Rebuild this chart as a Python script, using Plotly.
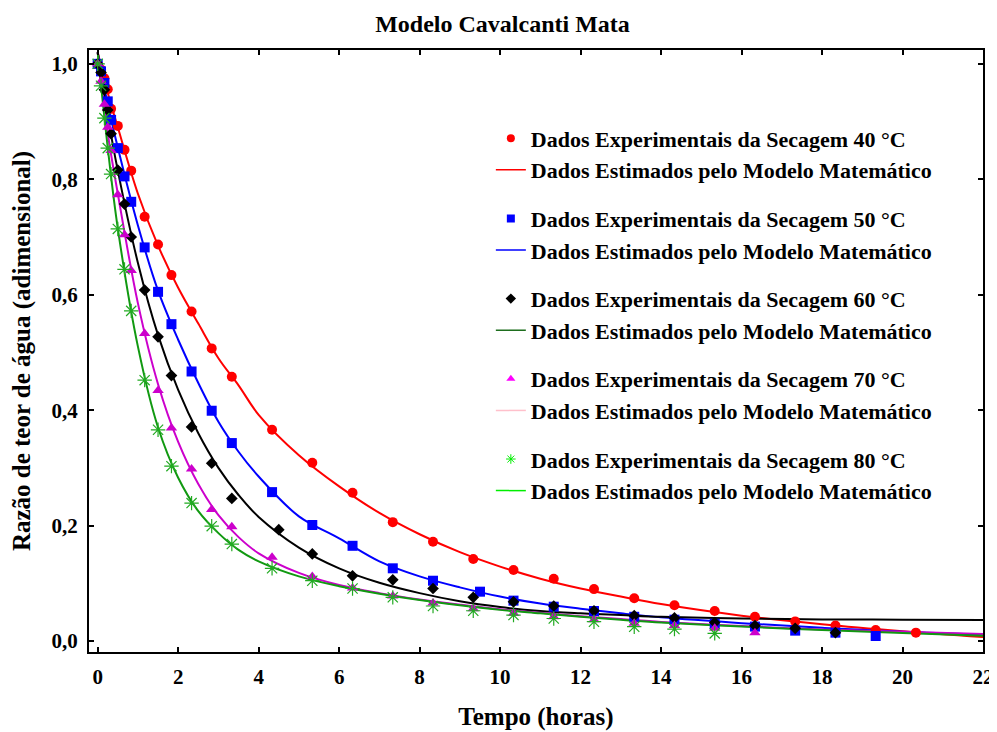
import plotly.graph_objects as go

# ---------------- data ----------------
t_red = [0, 0.083, 0.167, 0.25, 0.333, 0.5, 0.667, 0.833, 1.167, 1.5, 1.833, 2.333, 2.833, 3.333,
         4.333, 5.333, 6.333, 7.333, 8.333, 9.333, 10.333, 11.333, 12.333, 13.333, 14.333, 15.333,
         16.333, 17.333, 18.333, 19.333, 20.333]
mr_40 = [1.0, 0.99, 0.975, 0.956, 0.922, 0.8925, 0.851, 0.815, 0.735, 0.687, 0.634, 0.571, 0.507, 0.458,
         0.366, 0.309, 0.257, 0.206, 0.172, 0.142, 0.123, 0.108, 0.090, 0.074, 0.062, 0.052,
         0.042, 0.034, 0.027, 0.019, 0.0145]

t_blue = [0, 0.083, 0.167, 0.25, 0.333, 0.5, 0.667, 0.833, 1.167, 1.5, 1.833, 2.333, 2.833, 3.333,
          4.333, 5.333, 6.333, 7.333, 8.333, 9.5, 10.333, 11.333, 12.333, 13.333, 14.333, 15.333,
          16.333, 17.333, 18.333, 19.333]
mr_50 = [1.0, 0.987, 0.967, 0.935, 0.903, 0.854, 0.805, 0.761, 0.682, 0.605, 0.549, 0.467, 0.399, 0.343,
         0.258, 0.201, 0.165, 0.126, 0.1045, 0.0855, 0.070, 0.0595, 0.052, 0.042, 0.037, 0.030,
         0.025, 0.018, 0.0145, 0.0087]

t_black = [0, 0.083, 0.167, 0.25, 0.333, 0.5, 0.667, 0.833, 1.167, 1.5, 1.833, 2.333, 2.833, 3.333,
           4.5, 5.333, 6.333, 7.333, 8.333, 9.333, 10.333, 11.333, 12.333, 13.333, 14.333, 15.333,
           16.333, 17.333, 18.333]
mr_60 = [1.0, 0.985, 0.955, 0.92, 0.879, 0.816, 0.757, 0.70, 0.608, 0.527, 0.46, 0.371, 0.308, 0.247,
         0.193, 0.151, 0.113, 0.106, 0.091, 0.0757, 0.068, 0.0607, 0.0525, 0.044, 0.040, 0.032,
         0.0266, 0.022, 0.0144]

t_mag = [0, 0.083, 0.167, 0.25, 0.333, 0.5, 0.667, 0.833, 1.167, 1.5, 1.833, 2.333, 2.833, 3.333,
         4.333, 5.333, 6.333, 7.333, 8.333, 9.333, 10.333, 11.333, 12.333, 13.333, 14.333, 15.333,
         16.333]
mr_70 = [1.0, 0.97, 0.93, 0.89, 0.85, 0.773, 0.704, 0.642, 0.533, 0.434, 0.369, 0.298, 0.228, 0.198,
         0.145, 0.112, 0.092, 0.078, 0.066, 0.056, 0.048, 0.042, 0.037, 0.031, 0.027, 0.022,
         0.0144]

t_green = [0, 0.083, 0.167, 0.25, 0.333, 0.5, 0.667, 0.833, 1.167, 1.5, 1.833, 2.333, 2.833, 3.333,
           4.333, 5.333, 6.333, 7.333, 8.333, 9.333, 10.333, 11.333, 12.333, 13.333, 14.333, 15.333]
mr_80 = [1.0, 0.962, 0.906, 0.854, 0.809, 0.714, 0.644, 0.572, 0.452, 0.366, 0.303, 0.239, 0.199, 0.168,
         0.126, 0.1045, 0.091, 0.0757, 0.0607, 0.0525, 0.045, 0.039, 0.0335, 0.0248, 0.0208, 0.0133]

# model curves
t_fit = [0, 0.25, 0.5, 1, 1.5, 2, 2.5, 3, 3.5, 4, 5, 6, 7, 8, 9, 10, 11, 12, 13, 14, 16, 18, 20, 22]
fit_40 = [1.02, 0.95, 0.89, 0.775, 0.685, 0.612, 0.55, 0.490, 0.443, 0.392, 0.322, 0.268, 0.222, 0.185,
          0.154, 0.129, 0.108, 0.091, 0.077, 0.064, 0.044, 0.029, 0.017, 0.007]
fit_50 = [1.02, 0.93, 0.855, 0.72, 0.607, 0.522, 0.447, 0.38, 0.328, 0.285, 0.216, 0.178, 0.138, 0.112,
          0.093, 0.077, 0.065, 0.056, 0.048, 0.041, 0.031, 0.023, 0.016, 0.011]
fit_60 = [1.02, 0.91, 0.815, 0.655, 0.53, 0.435, 0.36, 0.30, 0.253, 0.215, 0.162, 0.126, 0.101, 0.083,
          0.069, 0.059, 0.052, 0.048, 0.045, 0.042, 0.039, 0.0375, 0.037, 0.0365]
fit_70 = [1.02, 0.88, 0.775, 0.585, 0.445, 0.345, 0.272, 0.218, 0.18, 0.152, 0.118, 0.097, 0.083, 0.072,
          0.063, 0.055, 0.049, 0.043, 0.038, 0.033, 0.026, 0.020, 0.016, 0.012]
fit_80 = [1.02, 0.855, 0.715, 0.51, 0.37, 0.283, 0.225, 0.187, 0.158, 0.138, 0.112, 0.095, 0.082, 0.071,
          0.062, 0.054, 0.048, 0.042, 0.037, 0.032, 0.025, 0.019, 0.014, 0.009]

temps = ["40", "50", "60", "70", "80"]
exp_label = "Dados Experimentais da Secagem {} °C"
fit_label = "Dados Estimados pelo Modelo Matemático"
x_ticks = [0, 2, 4, 6, 8, 10, 12, 14, 16, 18, 20, 22]
y_ticks = [0.0, 0.2, 0.4, 0.6, 0.8, 1.0]

# ---------------- figure ----------------
FONT = "Liberation Serif, Times New Roman, serif"
fig = go.Figure()

series = [
    (t_red, mr_40, fit_40, "#ff0000", "#ff0000", "circle", 10, "#ff0000", "#ff0000"),
    (t_blue, mr_50, fit_50, "#0000ff", "#0000ff", "square", 10, "#0000ff", "#0000ff"),
    (t_black, mr_60, fit_60, "#000000", "#000000", "diamond", 9, "#000000", "#1e6e1e"),
    (t_mag, mr_70, fit_70, "#cc00cc", "#cc00cc", "triangle-up", 10, "#ff00ff", "#ffc0cb"),
    (t_green, mr_80, fit_80, "#119911", "#22aa22", "asterisk-open", 12, "#00ee00", "#00ee00"),
]

for (tx, my, fy, lcol, mcol, sym, msz, leg_m, leg_l) in series:
    fig.add_trace(go.Scatter(x=t_fit, y=fy, mode="lines", line=dict(color=lcol, width=2, shape="spline"),
                             showlegend=False, hoverinfo="skip"))
for (tx, my, fy, lcol, mcol, sym, msz, leg_m, leg_l) in series:
    if sym == "asterisk-open":
        mk = dict(symbol=sym, size=msz, color=mcol, line=dict(color=mcol, width=1.2))
    else:
        mk = dict(symbol=sym, size=msz, color=mcol, line=dict(width=0))
    fig.add_trace(go.Scatter(x=tx, y=my, mode="markers", marker=mk, showlegend=False))

# legend entries
for i, (tx, my, fy, lcol, mcol, sym, msz, leg_m, leg_l) in enumerate(series):
    if sym == "asterisk-open":
        mk = dict(symbol=sym, size=8, color=leg_m, line=dict(color=leg_m, width=1))
    else:
        mk = dict(symbol=sym, size=8, color=leg_m, line=dict(width=0))
    fig.add_trace(go.Scatter(x=[None], y=[None], mode="markers", marker=mk,
                             name=exp_label.format(temps[i]), legendgroup=temps[i]))
    fig.add_trace(go.Scatter(x=[None], y=[None], mode="lines", line=dict(color=leg_l, width=1.5),
                             name=fit_label, legendgroup=temps[i]))

axis_common = dict(
    showline=True, linecolor="black", linewidth=2, mirror="allticks",
    ticks="inside", ticklen=5, tickwidth=2, tickcolor="black",
    showgrid=False, zeroline=False, automargin=False, ticklabeloverflow="allow",
    tickfont=dict(family=FONT, size=21, color="black", weight="bold"),
)

fig.update_layout(
    width=989, height=724,
    paper_bgcolor="white", plot_bgcolor="white",
    margin=dict(l=81, r=14, t=42, b=80, autoexpand=False),
    separators=",.",
    title=dict(text="<b>Modelo Cavalcanti Mata</b>", x=0.5, xanchor="center", y=0.979, yanchor="middle",
               font=dict(family=FONT, size=24, color="black")),
    xaxis=dict(range=[-0.216, 22], tickvals=x_ticks, ticktext=[str(v) for v in x_ticks],
               ticklabelstandoff=5,
               title=dict(text="<b>Tempo (horas)</b>", font=dict(family=FONT, size=25, color="black"), standoff=19),
               **axis_common),
    yaxis=dict(range=[-0.019, 1.024], tickvals=y_ticks, tickformat=".1f",
               ticklabelstandoff=5,
               title=dict(text="<b>Razão de teor de água (adimensional)</b>",
                          font=dict(family=FONT, size=25, color="black"), standoff=22),
               **axis_common),
    legend=dict(x=0.4495, y=0.888, xanchor="left", yanchor="top", bgcolor="rgba(0,0,0,0)",
                font=dict(family=FONT, size=22, color="black", weight="bold"),
                traceorder="grouped", tracegroupgap=17, itemwidth=30),
    showlegend=True,
)

fig.write_html("out.html")
